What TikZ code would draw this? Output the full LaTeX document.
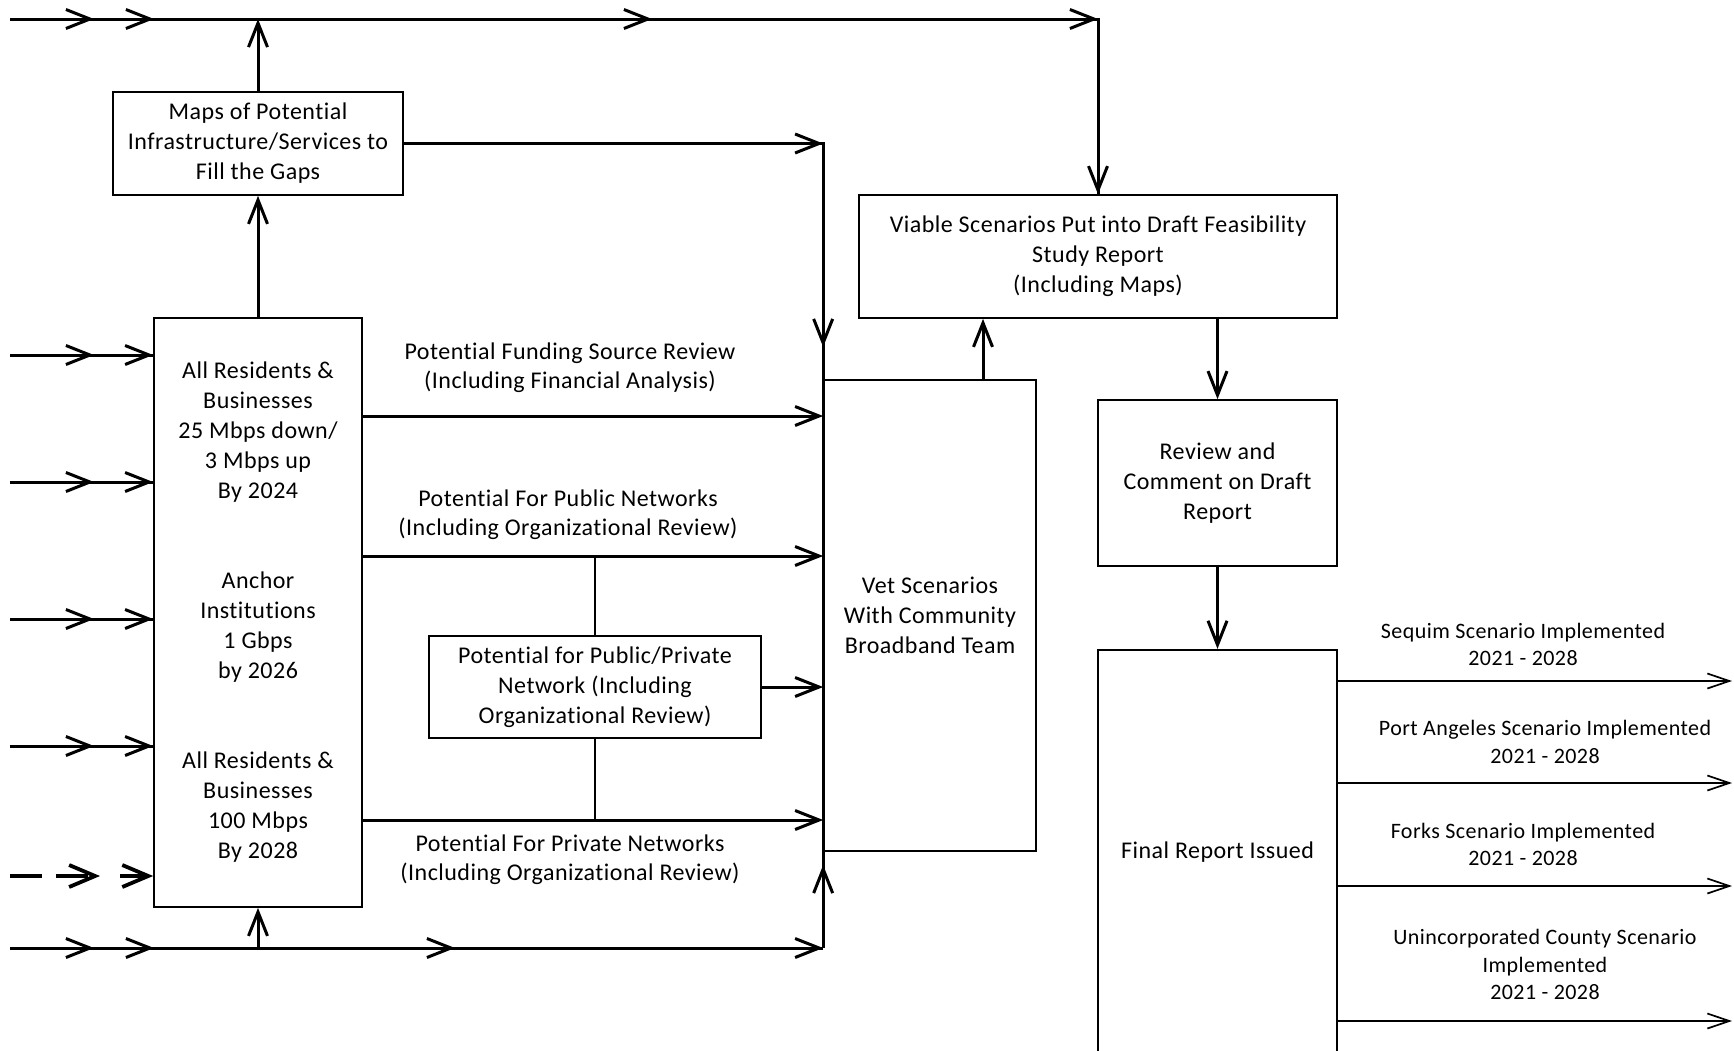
\documentclass[tikz,border=0pt]{standalone}
\usepackage{fontspec}
\setmainfont{Carlito}[LetterSpace=2, Ligatures=NoCommon]
\usetikzlibrary{arrows.meta, positioning}

\begin{document}
\begin{tikzpicture} [x = 0.5pt, y = -0.5pt,
        box/.style = {draw, line width = 0.85pt, align = center, inner sep = 2pt,
            font = \fontsize{12}{15}\selectfont},
        tag/.style = {align = center, inner sep = 0pt, font = \fontsize{12}{14.6}\selectfont},
        small tag/.style = {tag, font = \fontsize{11}{13.8}\selectfont},
        main/.style = {line width = 1.5pt},
        flow/.style = {main, -{Straight Barb[length = 12pt, width = 9.5pt]}},
        thin flow/.style = {line width = 0.85pt, -{Straight Barb[length = 11pt, width = 7.5pt]}},
        dash flow/.style = {line width = 1.9pt, -{Straight Barb[length = 13pt, width = 11pt]}}]
        \useasboundingbox (0,0) rectangle (1734,1050);

        % boxes
        \node (maps) [box, minimum width = 145pt, minimum height = 51.5pt] at (258,143.5)
            {Maps of Potential\\Infrastructure/Services to\\Fill the Gaps};
        \node (res) [box, minimum width = 104pt, minimum height = 294.5pt] at (258,612.5)
            {All Residents \&\\Businesses\\25 Mbps down/\\3 Mbps up\\By 2024\\[30pt]
             Anchor\\Institutions\\1 Gbps\\by 2026\\[30pt]
             All Residents \&\\Businesses\\100 Mbps\\By 2028};
        \node (pubpriv) [box, minimum width = 166pt, minimum height = 51pt] at (595,687)
            {Potential for Public/Private\\Network (Including\\Organizational Review)};
        \node (vet) [box, minimum width = 106pt, minimum height = 235.5pt] at (930,615.5)
            {Vet Scenarios\\With Community\\Broadband Team};
        \node (viable) [box, minimum width = 239pt, minimum height = 61.5pt] at (1098,256.5)
            {Viable Scenarios Put into Draft Feasibility\\Study Report\\(Including Maps)};
        \node (review) [box, minimum width = 119.5pt, minimum height = 83pt] at (1217.5,483)
            {Review and\\Comment on Draft\\Report};
        \node (final) [box, below = 41pt of review, minimum width = 119.5pt, minimum height = 202pt]
            {Final Report Issued};

        % labels
        \node (fundtag) [tag] at (570,367.5) {Potential Funding Source Review\\(Including Financial Analysis)};
        \node (pubtag) [tag] at (568,515) {Potential For Public Networks\\(Including Organizational Review)};
        \node (privtag) [tag] at (570,860) {Potential For Private Networks\\(Including Organizational Review)};
        \node (sequim) [small tag] at (1523,644.5) {Sequim Scenario Implemented\\2021 - 2028};
        \node (port) [small tag] at (1545,742) {Port Angeles Scenario Implemented\\2021 - 2028};
        \node (forks) [small tag] at (1523,844.5) {Forks Scenario Implemented\\2021 - 2028};
        \node (uninc) [small tag] at (1545,964.5) {Unincorporated County Scenario\\Implemented\\2021 - 2028};

        % inputs on the left
        \foreach \y [count = \i] in {19, 355, 482, 619, 746, 948} {
            \coordinate (in\i) at (10,\y);
            \coordinate (mid\i) at (94,\y);
            \draw [flow] (in\i) -- (mid\i);
        }
        \foreach \i in {2,...,5} {
            \draw [main] (in\i) -- (res.west |- mid\i);
            \draw [flow] (mid\i) -- (res.west |- mid\i);
        }
        \coordinate (in7) at (10,876);
        \coordinate (mid7) at (100,876);
        \draw [dash flow, dash pattern = on 16pt off 7pt] (in7) -- (mid7);
        \draw [dash flow, dash pattern = on 0pt off 10pt on 20pt off 0pt] (mid7) -- (res.west |- mid7);

        % top line
        \coordinate (hop1) at (154,19);
        \coordinate (hop2) at (652,19);
        \draw [main] (in1) -- (viable.north |- hop2) -- (viable.north);
        \draw [flow] (mid1) -- (hop1);
        \draw [flow] (hop1) -- (hop2);
        \draw [flow] (hop2) -- (viable.north |- hop2);
        \draw [flow] (viable.north |- hop2) -- (viable.north);
        \draw [flow] (maps.north) -- (maps.north |- hop1);
        \draw [flow] (res.north) -- (maps.south);

        % bottom line
        \coordinate (hop3) at (154,948);
        \coordinate (hop4) at (455,948);
        \draw [main] (in6) -- (vet.west |- hop4);
        \draw [flow] (mid6) -- (hop3);
        \draw [flow] (hop3) -- (hop4);
        \draw [flow] (hop4) -- (vet.west |- hop4);
        \draw [flow] (res.south |- hop3) -- (res.south);

        % spine into vetting
        \draw [main] (maps.east) -- (vet.west |- maps.east) -- (vet.west |- hop4);
        \draw [flow] (maps.east) -- (vet.west |- maps.east);
        \draw [flow] (vet.west |- maps.east) -- (vet.west |- 0,347);
        \draw [flow] (vet.west |- hop4) -- (vet.west |- 0,865);
        \coordinate (fund) at (600,416);
        \coordinate (pub) at (600,556);
        \coordinate (priv) at (600,820);
        \foreach \c in {fund, pub, priv}
            \draw [flow] (res.east |- \c) -- (vet.west |- \c);
        \draw [line width = 1.1pt] (pubpriv.north) -- (pubpriv.north |- pub);
        \draw [line width = 1.1pt] (pubpriv.south) -- (pubpriv.south |- priv);
        \draw [flow] (pubpriv.east) -- (vet.west |- pubpriv.east);

        % report steps
        \draw [flow] (vet.north -| 983,0) -- (viable.south -| 983,0);
        \draw [flow] (viable.south -| review.north) -- (review.north);
        \draw [flow] (review) -- (final);
        \foreach \y [count = \i] in {681, 783, 886, 1021} {
            \coordinate (out\i) at (1732,\y);
            \draw [thin flow] (final.east |- out\i) -- (out\i);
        }
    \end{tikzpicture}
\end{document}
